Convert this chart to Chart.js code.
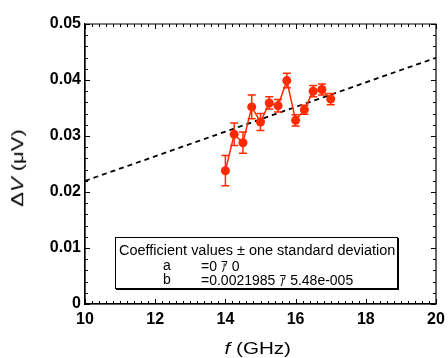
<!DOCTYPE html>
<html>
<head>
<meta charset="utf-8">
<script src="https://cdn.jsdelivr.net/npm/chart.js@4.4.1/dist/chart.umd.min.js"></script>
<style>
  html, body { margin: 0; padding: 0; background: #fff; }
  #wrap { position: relative; width: 448px; height: 358px; overflow: hidden; }
  canvas { position: absolute; left: 0; top: 0; }
  .ttl { position: absolute; font-family: "Liberation Sans", Arial, sans-serif; color: #000; white-space: nowrap; line-height: 1; }
  #xt { font-size: 16px; transform-origin: center center; }
  #yt { font-size: 16px; transform-origin: center center; }
  #box { position: absolute; left: 115px; top: 237px; width: 281px; height: 50px; border: 1px solid #000;
         box-shadow: 1px 1px 0 #000; background: #fff; font-family: "Liberation Sans", Arial, sans-serif; font-size: 14px; color: #000; }
  #box div { position: absolute; white-space: nowrap; line-height: 1; }
  .jp { font-family: "Noto Sans CJK JP", sans-serif; }
</style>
</head>
<body>
<div id="wrap">
  <canvas id="c" width="448" height="358"></canvas>
  <div id="xt" class="ttl"><i>f</i> (GHz)</div>
  <div id="yt" class="ttl">Δ<i>V</i> (μV)</div>
  <div id="box">
    <div id="l1" style="left:3px; top:5px;">Coefficient values ± one standard deviation</div>
    <div style="left:47px; top:20px;">a</div>
    <div style="left:85px; top:20px;">=0 <span class="jp">ｱ</span> 0</div>
    <div style="left:47px; top:34px;">b</div>
    <div style="left:85px; top:34px;">=0.0021985 <span class="jp">ｱ</span> 5.48e-005</div>
  </div>
</div>
<script>
// ---- data ----
const freqGHz   = [14, 14.25, 14.5, 14.75, 15, 15.25, 15.5, 15.75, 16, 16.25, 16.5, 16.75, 17];
const deltaV    = [0.0238, 0.0303, 0.0288, 0.0352, 0.0325, 0.0359, 0.0354, 0.0399, 0.0328, 0.0347, 0.0380, 0.0383, 0.0366];
const deltaVErr = [0.0027, 0.0020, 0.0019, 0.0021, 0.0015, 0.0011, 0.0011, 0.0013, 0.0010, 0.0008, 0.0010, 0.0010, 0.0010];
const fitX = [10, 20];
const fitY = [0.021985, 0.04397];
const xTicks = [10, 12, 14, 16, 18, 20];
const yTicks = [0, 0.01, 0.02, 0.03, 0.04, 0.05];

const RED = '#ff2a00';

const errorBars = {
  id: 'errorBars',
  afterDatasetsDraw(chart) {
    const {ctx, scales: {x, y}} = chart;
    ctx.save();
    ctx.strokeStyle = RED;
    ctx.lineWidth = 1.5;
    for (let i = 0; i < freqGHz.length; i++) {
      const px = x.getPixelForValue(freqGHz[i]);
      const yt = y.getPixelForValue(deltaV[i] + deltaVErr[i]);
      const yb = y.getPixelForValue(deltaV[i] - deltaVErr[i]);
      ctx.beginPath();
      ctx.moveTo(px, yt); ctx.lineTo(px, yb);
      ctx.moveTo(px - 4, yt); ctx.lineTo(px + 4, yt);
      ctx.moveTo(px - 4, yb); ctx.lineTo(px + 4, yb);
      ctx.stroke();
    }
    ctx.restore();
  }
};

const frameTicks = {
  id: 'frameTicks',
  afterDraw(chart) {
    const {ctx, chartArea: a, scales: {x, y}} = chart;
    ctx.save();
    ctx.strokeStyle = '#000';
    ctx.lineWidth = 1.2;
    ctx.beginPath();
    ctx.rect(a.left, a.top, a.right - a.left, a.bottom - a.top);
    ctx.stroke();
    ctx.lineWidth = 1;
    ctx.beginPath();
    for (let k = 0; k <= 50; k++) {
      const v = x.min + k * 0.2;
      const px = Math.round(x.getPixelForValue(v)) + 0.5;
      const len = (k % 10 === 0) ? 5 : 3;
      ctx.moveTo(px, a.bottom); ctx.lineTo(px, a.bottom - len);
      ctx.moveTo(px, a.top); ctx.lineTo(px, a.top + len);
    }
    for (let k = 0; k <= 25; k++) {
      const v = y.min + k * 0.002;
      const py = Math.round(y.getPixelForValue(v)) + 0.5;
      const len = (k % 5 === 0) ? 5 : 3;
      ctx.moveTo(a.left, py); ctx.lineTo(a.left + len, py);
      ctx.moveTo(a.right, py); ctx.lineTo(a.right - len, py);
    }
    ctx.stroke();
    ctx.restore();
  }
};

const tickFont = {family: '"Liberation Sans", Arial, sans-serif', size: 16, weight: 'bold'};

const chart = new Chart(document.getElementById('c'), {
  type: 'scatter',
  data: {
    datasets: [
      {
        data: freqGHz.map((f, i) => ({x: f, y: deltaV[i]})),
        showLine: true,
        borderColor: RED,
        backgroundColor: RED,
        borderWidth: 1.5,
        pointRadius: 4.5,
        pointBorderWidth: 0
      },
      {
        data: fitX.map((f, i) => ({x: f, y: fitY[i]})),
        showLine: true,
        borderColor: '#000',
        borderWidth: 1.8,
        borderDash: [5, 4],
        pointRadius: 0
      }
    ]
  },
  options: {
    responsive: false,
    animation: false,
    devicePixelRatio: 1,
    layout: {padding: {left: 0, right: 12, top: 24, bottom: 0}},
    plugins: {legend: {display: false}, tooltip: {enabled: false}},
    scales: {
      x: {
        type: 'linear', min: 10, max: 20,
        afterBuildTicks: s => { s.ticks = xTicks.map(v => ({value: v})); },
        ticks: {font: tickFont, color: '#000', padding: 6, maxRotation: 0, callback: v => String(v)},
        grid: {display: false, drawTicks: false},
        border: {display: true, color: '#000', width: 1.2},
        afterFit: s => { s.height = 54; s.paddingLeft = 0; s.paddingRight = 0; }
      },
      y: {
        type: 'linear', min: 0, max: 0.05,
        afterBuildTicks: s => { s.ticks = yTicks.map(v => ({value: v})); },
        ticks: {font: tickFont, color: '#000', padding: 4, callback: v => (v === 0 ? '0' : v.toFixed(2))},
        grid: {display: false, drawTicks: false},
        border: {display: true, color: '#000', width: 1.2},
        afterFit: s => { s.width = 85; s.paddingTop = 0; s.paddingBottom = 0; }
      }
    }
  },
  plugins: [errorBars, frameTicks]
});

function place(el, cx, cy, targetLen, rotate) {
  const w = el.offsetWidth, h = el.offsetHeight;
  el.style.left = (cx - w / 2) + 'px';
  el.style.top = (cy - h / 2) + 'px';
  const k = targetLen / w;
  el.style.transform = (rotate ? 'rotate(-90deg) ' : '') + 'scaleX(' + k + ')';
}
place(document.getElementById('xt'), 258, 349, 67, false);
place(document.getElementById('yt'), 18, 168, 77, true);
const l1 = document.getElementById('l1');
l1.style.transformOrigin = 'left center';
l1.style.transform = 'scaleX(' + (276 / l1.offsetWidth) + ')';
</script>
</body>
</html>
